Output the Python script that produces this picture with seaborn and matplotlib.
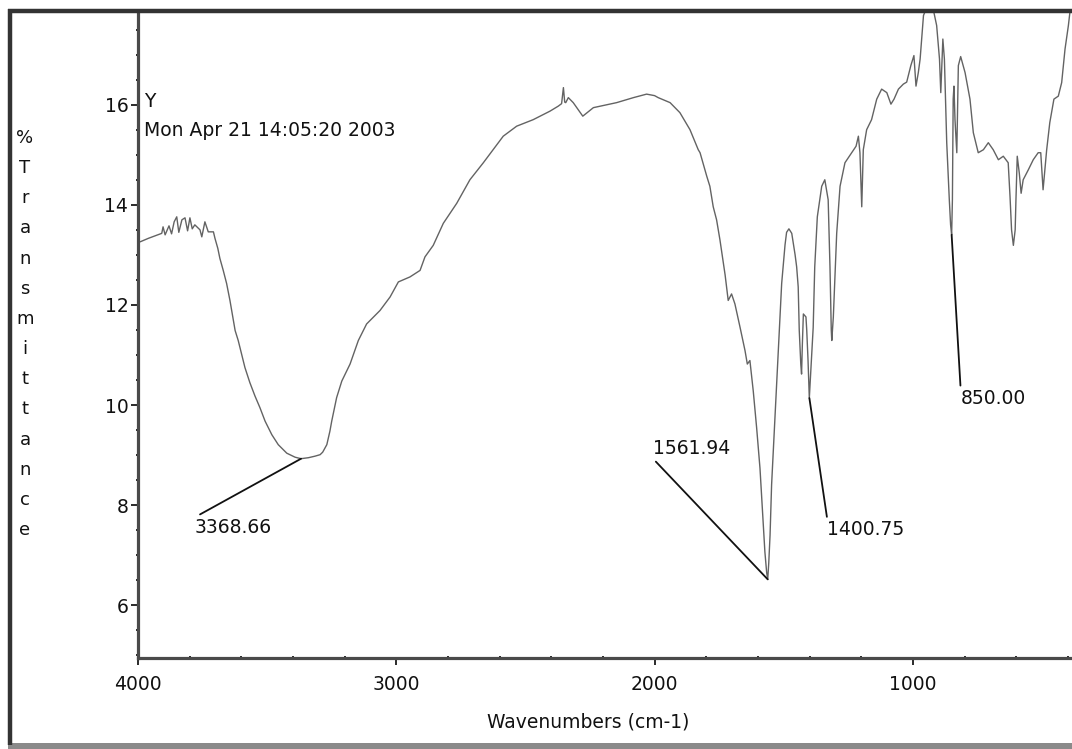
import matplotlib
matplotlib.use("Agg")
import matplotlib.pyplot as plt
import seaborn as sns
import pandas as pd
from matplotlib.ticker import MultipleLocator, FixedLocator
from matplotlib.lines import Line2D
from matplotlib.patches import Rectangle

# IR spectrum: wavenumber (cm-1) and %T
wavenumber = [
    3992, 3960, 3934, 3908, 3903, 3895, 3880, 3870, 3860, 3850, 3842, 3830,
    3818, 3808, 3799, 3790, 3780, 3770, 3760, 3753, 3741, 3734, 3728, 3708,
    3702, 3691, 3683, 3670, 3657, 3644, 3635, 3624, 3612, 3599, 3586, 3567,
    3547, 3528, 3508, 3482, 3457, 3424, 3392, 3369, 3340, 3315, 3295, 3285,
    3269, 3257, 3250, 3231, 3211, 3179, 3147, 3115, 3063, 3024, 2992, 2947,
    2908, 2889, 2857, 2818, 2766, 2715, 2663, 2586, 2534, 2470, 2405, 2373,
    2360, 2353, 2348, 2344, 2334, 2315, 2278, 2237, 2147, 2082, 2031, 2000,
    1986, 1940, 1902, 1863, 1831, 1824, 1798, 1786, 1773, 1760, 1747, 1727,
    1715, 1702, 1689, 1669, 1650, 1641, 1631, 1618, 1605, 1592, 1582, 1573,
    1566, 1562, 1558, 1553, 1547, 1534, 1521, 1508, 1495, 1489, 1480, 1469,
    1456, 1450, 1444, 1440, 1434, 1431, 1428, 1424, 1414, 1411, 1406, 1401,
    1396, 1392, 1386, 1380, 1370, 1353, 1341, 1328, 1321, 1316, 1314, 1308,
    1295, 1282, 1263, 1237, 1220, 1211, 1205, 1198, 1192, 1179, 1160, 1140,
    1121, 1101, 1085, 1073, 1056, 1037, 1024, 1008, 996, 988, 979, 972,
    966, 959, 946, 930, 921, 908, 897, 892, 884, 878, 869, 859,
    854, 850, 847, 844, 841, 837, 830, 824, 815, 798, 779, 766,
    747, 727, 708, 689, 669, 650, 631, 624, 618, 611, 604, 601,
    596, 588, 581, 573, 553, 534, 515, 505, 496, 482, 470, 454,
    437, 424, 411, 398, 392, 386,
]
transmittance = [
    13.26, 13.33, 13.38, 13.43, 13.56, 13.40, 13.58, 13.42, 13.66, 13.76, 13.45, 13.70,
    13.74, 13.48, 13.74, 13.52, 13.60, 13.55, 13.50, 13.36, 13.66, 13.55, 13.46, 13.46,
    13.33, 13.13, 12.93, 12.69, 12.43, 12.09, 11.82, 11.49, 11.29, 11.02, 10.75, 10.45,
    10.18, 9.95, 9.68, 9.41, 9.21, 9.04, 8.96, 8.93, 8.95, 8.98, 9.01, 9.06,
    9.21, 9.48, 9.68, 10.15, 10.48, 10.82, 11.29, 11.62, 11.89, 12.16, 12.46, 12.56,
    12.69, 12.96, 13.19, 13.63, 14.03, 14.50, 14.84, 15.37, 15.57, 15.70, 15.87, 15.97,
    16.02, 16.34, 16.05, 16.04, 16.14, 16.04, 15.77, 15.94, 16.04, 16.14, 16.21, 16.18,
    16.14, 16.04, 15.84, 15.50, 15.10, 15.04, 14.57, 14.37, 13.96, 13.70, 13.30, 12.60,
    12.09, 12.22, 12.02, 11.55, 11.09, 10.82, 10.89, 10.28, 9.55, 8.74, 7.87, 7.07,
    6.65, 6.52, 6.85, 7.40, 8.41, 9.75, 11.09, 12.43, 13.20, 13.45, 13.52, 13.43,
    13.00, 12.76, 12.36, 11.50, 10.82, 10.62, 11.20, 11.82, 11.76, 11.50, 10.90, 10.14,
    10.60, 11.00, 11.55, 12.76, 13.76, 14.37, 14.50, 14.10, 12.76, 11.50, 11.29, 11.76,
    13.43, 14.37, 14.84, 15.04, 15.17, 15.37, 15.04, 13.96, 15.10, 15.50, 15.70, 16.11,
    16.31, 16.24, 16.01, 16.11, 16.31, 16.41, 16.45, 16.78, 16.98, 16.37, 16.64, 16.91,
    17.31, 17.78, 17.95, 17.95, 17.90, 17.58, 16.91, 16.24, 17.31, 16.91, 15.24, 14.10,
    13.60, 13.40, 14.10, 16.11, 16.37, 15.70, 15.04, 16.78, 16.96, 16.64, 16.11, 15.44,
    15.04, 15.10, 15.24, 15.10, 14.90, 14.97, 14.84, 14.17, 13.50, 13.19, 13.50, 14.10,
    14.97, 14.63, 14.23, 14.50, 14.70, 14.90, 15.04, 15.04, 14.30, 15.10, 15.64, 16.11,
    16.17, 16.44, 17.11, 17.58, 17.85, 18.00,
]

# Labelled peaks
peak_wavenumbers = [3368.66, 1561.94, 1400.75, 850.00]
peak_transmittance = [8.93, 6.52, 10.14, 13.40]

x_ticks = [4000, 3000, 2000, 1000]
y_ticks = [6, 8, 10, 12, 14, 16]
x_label = "Wavenumbers (cm-1)"
y_label = "%Transmittance"
header = "Y\nMon Apr 21 14:05:20 2003"

df = pd.DataFrame({"wavenumber": wavenumber, "transmittance": transmittance})

sns.set_theme(style="white")
plt.rcParams["font.family"] = ["DejaVu Sans"]

W, H = 1072, 749
fig = plt.figure(figsize=(W / 100, H / 100), dpi=100, facecolor="white")

# plot area in pixel terms
left_px, right_px, top_px, bottom_px = 138, 1072, 12, 658
ax = fig.add_axes([left_px / W, 1 - bottom_px / H,
                   (right_px - left_px) / W, (bottom_px - top_px) / H])
ax.set_facecolor("white")

sns.lineplot(data=df, x="wavenumber", y="transmittance", ax=ax,
             sort=False, estimator=None, color="#636363", linewidth=1.0)

ax.set_xlim(4000, 384)
ax.set_ylim(4.95, 17.85)

ax.xaxis.set_major_locator(FixedLocator(x_ticks))
ax.xaxis.set_minor_locator(MultipleLocator(200))
ax.yaxis.set_major_locator(FixedLocator(y_ticks))
ax.yaxis.set_minor_locator(MultipleLocator(0.5))

for side in ("top", "right"):
    ax.spines[side].set_visible(False)
for side in ("left", "bottom"):
    ax.spines[side].set_color("#4a4a4a")
    ax.spines[side].set_linewidth(2.3)

ax.tick_params(axis="both", which="major", direction="out", length=5,
               width=1.3, color="#1a1a1a", labelsize=13.5, labelcolor="#111111")
ax.tick_params(axis="x", which="major", pad=7)
ax.tick_params(axis="y", which="major", pad=2)
ax.tick_params(axis="both", which="minor", direction="inout", length=3,
               width=1.3, color="#1a1a1a")
ax.tick_params(axis="both", which="both", bottom=True, left=True)

ax.set_xlabel(x_label, fontsize=13.5, color="#111111")
ax.xaxis.set_label_coords((588 - left_px) / (right_px - left_px),
                          -(722 - bottom_px) / (bottom_px - top_px))
ax.xaxis.label.set_va("center")
ax.set_ylabel("")

# vertical stacked axis title
fig.text(25 / W, 1 - 334 / H, "\n".join(y_label), ha="center", va="center",
         fontsize=13, linespacing=1.87, color="#111111")

# header text
ax.text(3977, 16.26, header, ha="left", va="top", fontsize=13.5,
        linespacing=1.7, color="#111111")

# peak annotations with leader lines (offsets in pixels)
label_offsets = [(-107, -59), (-115, 121), (18, -122), (9, -154)]
for wn, tv, off in zip(peak_wavenumbers, peak_transmittance, label_offsets):
    above = off[1] > 0
    ax.annotate(f"{wn:.2f}", xy=(wn, tv), xytext=off, textcoords="offset pixels",
                ha="left", va="bottom" if above else "top", fontsize=13.5,
                color="#111111",
                arrowprops=dict(arrowstyle="-", color="#111111", lw=1.3,
                                shrinkA=0, shrinkB=0,
                                relpos=(0, 0) if above else (0, 1)))

# outer frame
fig.add_artist(Line2D([10 / W, 10 / W], [1 - 9 / H, 1 - 745 / H],
                      transform=fig.transFigure, color="#333333", lw=3.2,
                      solid_capstyle="butt"))
fig.add_artist(Line2D([8 / W, 1.0], [1 - 11 / H, 1 - 11 / H],
                      transform=fig.transFigure, color="#333333", lw=3.2,
                      solid_capstyle="butt"))
fig.add_artist(Rectangle((8 / W, 0), 1 - 8 / W, 6 / H, transform=fig.transFigure,
                         facecolor="#8a8a8a", edgecolor="none"))

fig.savefig("out.png", dpi=100, facecolor="white")
